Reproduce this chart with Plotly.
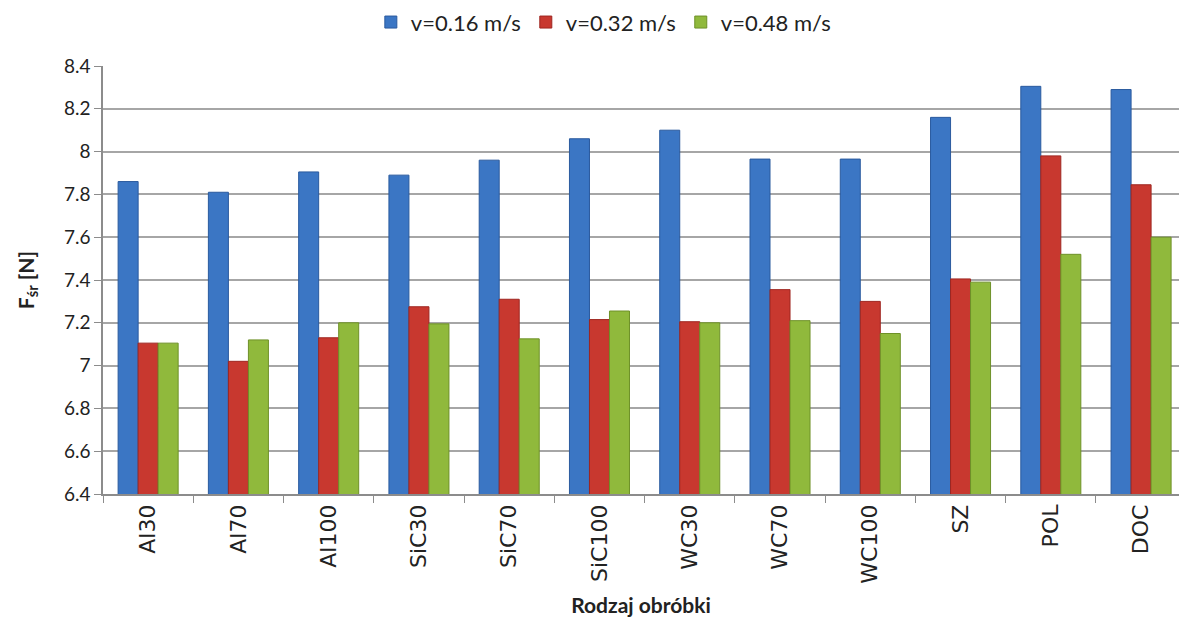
import plotly.graph_objects as go

categories = ["Al30", "Al70", "Al100", "SiC30", "SiC70", "SiC100",
              "WC30", "WC70", "WC100", "SZ", "POL", "DOC"]
v016 = [7.86, 7.81, 7.905, 7.89, 7.96, 8.06, 8.10, 7.965, 7.965, 8.16, 8.305, 8.29]
v032 = [7.105, 7.02, 7.13, 7.275, 7.31, 7.215, 7.205, 7.355, 7.30, 7.405, 7.98, 7.845]
v048 = [7.105, 7.12, 7.20, 7.195, 7.125, 7.255, 7.20, 7.21, 7.15, 7.39, 7.52, 7.60]
y_ticks = [6.4, 6.6, 6.8, 7.0, 7.2, 7.4, 7.6, 7.8, 8.0, 8.2, 8.4]
y_tick_text = ["6.4", "6.6", "6.8", "7", "7.2", "7.4", "7.6", "7.8", "8", "8.2", "8.4"]

series = [
    ("v=0.16 m/s", v016, "#3B76C4", "#2A5A9E"),
    ("v=0.32 m/s", v032, "#C8382F", "#9E2620"),
    ("v=0.48 m/s", v048, "#90B93C", "#6E9128"),
]

font_family = "Lato, 'Open Sans', sans-serif"

fig = go.Figure()
for name, vals, col, edge in series:
    fig.add_trace(go.Bar(
        x=categories, y=vals, name=name,
        marker=dict(color=col, line=dict(color=edge, width=1)),
    ))

fig.update_layout(
    width=1179, height=628,
    margin=dict(l=103, r=0, t=66, b=134),
    paper_bgcolor="white", plot_bgcolor="white",
    barmode="group", bargap=0.335, bargroupgap=0,
    font=dict(family=font_family, size=19, color="#222222"),
    legend=dict(orientation="h", x=0.465, xanchor="center", y=0.998, yanchor="top",
                yref="container", font=dict(size=22), itemwidth=30,
                traceorder="normal"),
    showlegend=True,
)

fig.update_xaxes(
    range=[-0.5, 11.42],
    tickangle=-90, tickson="boundaries", ticks="outside", ticklen=7,
    tickcolor="#8C8C8C", showline=True, linecolor="#8C8C8C", linewidth=1.5,
    tickfont=dict(size=22, family="'DejaVu Sans', sans-serif"),
    title=dict(text="<b>Rodzaj obróbki</b>", font=dict(size=21), standoff=16),
)
fig.update_yaxes(
    range=[6.4, 8.4], tickvals=y_ticks, ticktext=y_tick_text,
    ticks="outside", ticklen=7, tickcolor="#8C8C8C",
    showline=True, linecolor="#8C8C8C", linewidth=1.5,
    showgrid=True, gridcolor="#A6A6A6", gridwidth=1.5,
    tickfont=dict(size=19), zeroline=False,
    title=dict(text="<b>F<sub>śr</sub> [N]</b>", font=dict(size=21), standoff=24),
)

fig.write_html("out.html")
